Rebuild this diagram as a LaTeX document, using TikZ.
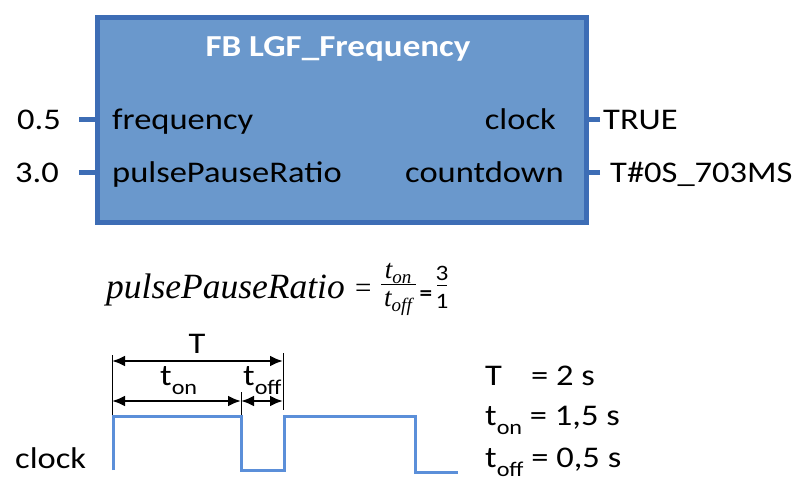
\documentclass[tikz,border=0pt]{standalone}
\usepackage{fontspec}
\setmainfont{Carlito}[FakeStretch=1.15]
\newfontfamily\fserif{Liberation Serif}
\usetikzlibrary{arrows.meta}
\definecolor{boxfill}{HTML}{6A98CC}
\definecolor{boxline}{HTML}{3D6DB5}
\definecolor{wave}{HTML}{5B8FD9}
\newcommand{\lmit}{\fserif\itshape}
\tikzset{
  txt/.style={inner sep=0pt, font=\fontsize{30}{32}\selectfont},
  ttl/.style={inner sep=0pt, text=white, font=\fontsize{30.5}{32}\selectfont\bfseries},
  pin/.style={boxline, line width=5pt},
  tick/.style={black, line width=0.8pt},
  dim/.style={black, line width=2.5pt, {Latex[length=13pt,width=11pt]}-{Latex[length=13pt,width=11pt]}},
  wavel/.style={wave, line width=3pt},
  mth/.style={inner sep=0pt, font=\fontsize{35.5}{36}\lmit},
  smth/.style={inner sep=0pt, font=\fontsize{27}{27}\lmit},
}
\newcommand{\subx}[1]{\raisebox{-9pt}{\fontsize{21}{21}\selectfont #1}}
\newcommand{\subm}[1]{\raisebox{-5pt}{\fontsize{19}{19}\lmit #1}}
\begin{document}
\begin{tikzpicture}[x=1pt,y=-1pt]
\useasboundingbox (0,0) rectangle (800,498);
% function block
\node[draw=boxline, fill=boxfill, line width=4.5pt, minimum width=489pt, minimum height=205pt, inner sep=0pt, anchor=north west] (box) at (95,15) {};
\node[ttl, anchor=base] (title) at (338,56) {FB LGF\_Frequency};
\node[txt, anchor=base west] (inf) at (112,129) {frequency};
\node[txt, anchor=base west] (inp) at (112,182) {pulsePauseRatio};
\node[txt, anchor=base east] (outc) at (556,129) {clock};
\node[txt, anchor=base east] (outd) at (564,182) {countdown};
% pins
\coordinate (pl1) at (79,119);
\coordinate (pl2) at (79,172);
\coordinate (pr1) at (600,119);
\coordinate (pr2) at (600,172);
\draw[pin] (pl1) -- (pl1 -| box.west);
\draw[pin] (pl2) -- (pl2 -| box.west);
\draw[pin] (pr1) -- (pr1 -| box.east);
\draw[pin] (pr2) -- (pr2 -| box.east);
\node[txt, anchor=base west] (v1) at (17,129) {0.5};
\node[txt, anchor=base west] (v2) at (15,182) {3.0};
\node[txt, anchor=base west] (v3) at (603,129) {TRUE};
\node[txt, anchor=base west] (v4) at (610,182) {T\#0S\_703MS};
% formula
\node[mth, anchor=base west] (fl) at (106,298) {pulsePauseRatio};
\node[inner sep=0pt, anchor=base west, font=\fontsize{29}{30}\fserif] (feq0) at (355,297) {=};
\node[smth, anchor=base] (fnum) at (398,278) {t\subm{on}};
\node[smth, anchor=base] (fden) at (398,306) {t\subm{off}};
\draw[line width=1pt] (381,284) -- (416,284);
\node[txt, anchor=base, font=\fontsize{22}{22}\selectfont\bfseries] (feq) at (426,300) {=};
\node[txt, anchor=base, font=\fontsize{22}{22}\selectfont] (f3) at (442,280) {3};
\draw[line width=1pt] (437,285) -- (447,285);
\node[txt, anchor=base, font=\fontsize{22}{22}\selectfont] (f1) at (442,308) {1};
% timing
\coordinate (k1a) at (112,355);
\coordinate (k1b) at (112,416);
\coordinate (k2a) at (283,353);
\coordinate (k2b) at (283,410);
\coordinate (k3a) at (241,392);
\coordinate (k3b) at (241,416);
\draw[tick] (k1a) -- (k1b);
\draw[tick] (k2a) -- (k2b);
\draw[tick] (k3a) -- (k3b);
\draw[dim] (k1a |- 0,361) -- (k2a |- 0,361);
\draw[dim] (k1a |- 0,401) -- (k3a |- 0,401);
\draw[dim] (k3a |- 0,401) -- (k2a |- 0,401);
\node[txt, anchor=base] (lT) at (197,353) {T};
\node[txt, anchor=base west] (lon) at (160,385) {t\subx{on}};
\node[txt, anchor=base west] (loff) at (243,385) {t\subx{off}};
\draw[wavel] (113,470) -- (113,416) -- (241,416) -- (241,470) -- (284,470) -- (284,416) -- (415,416) -- (415,472) -- (458,472);
\node[txt, anchor=base west] (lclk) at (15,468) {clock};
% legend
\node[txt, anchor=base west] (gT) at (485,385) {T};
\node[txt, anchor=base west] (gTv) at (531,385) {= 2 s};
\node[txt, anchor=base west] (gon) at (485,425) {t\subx{on} = 1,5 s};
\node[txt, anchor=base west] (goff) at (485,467) {t\subx{off} = 0,5 s};
\end{tikzpicture}
\end{document}
